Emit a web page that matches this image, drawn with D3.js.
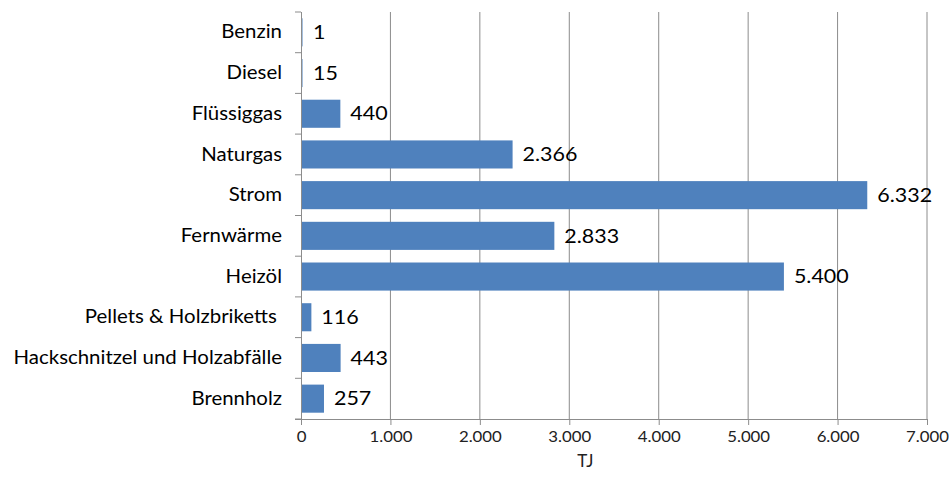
<!DOCTYPE html>
<html>
<head>
<meta charset="utf-8">
<script src="https://cdn.jsdelivr.net/npm/d3@7"></script>
<style>
  html, body { margin: 0; padding: 0; background: #fff; }
  svg { display: block; }
  text { font-family: Lato, "Open Sans", sans-serif; }
</style>
</head>
<body>
<svg id="chart" width="949" height="488"></svg>
<script>
// Endenergieverbrauch nach Energieträgern (TJ)
const categories = [
  "Benzin", "Diesel", "Flüssiggas", "Naturgas", "Strom", "Fernwärme",
  "Heizöl", "Pellets & Holzbriketts ", "Hackschnitzel und Holzabfälle", "Brennholz"
];
const values = [1, 15, 440, 2366, 6332, 2833, 5400, 116, 443, 257];
const xTicks = [0, 1000, 2000, 3000, 4000, 5000, 6000, 7000];
const xAxisTitle = "TJ";

const svg = d3.select("#chart");
const margin = { left: 301, right: 22, top: 12, bottom: 69 };
const W = 949, H = 488;

const x = d3.scaleLinear().domain([0, 7000]).range([margin.left, W - margin.right]);
const y = d3.scaleBand().domain(categories).range([margin.top, H - margin.bottom]).paddingInner(0.31).paddingOuter(0.155);

const fmt = d3.formatLocale({ decimal: ",", thousands: ".", grouping: [3], currency: ["", ""] }).format(",d");

// text is set slightly wide
const labelStretch = 1.16, catStretch = 1.075, tickStretch = 1.12;

// vertical gridlines
svg.append("g")
  .selectAll("line")
  .data(xTicks.slice(1))
  .join("line")
  .attr("x1", d => x(d)).attr("x2", d => x(d))
  .attr("y1", margin.top).attr("y2", H - margin.bottom)
  .attr("stroke", "#8c8c8c").attr("stroke-width", 1);

// bars
svg.append("g")
  .selectAll("rect")
  .data(values)
  .join("rect")
  .attr("x", x(0))
  .attr("y", (d, i) => y(categories[i]))
  .attr("width", d => Math.max(1.5, x(d) - x(0)))
  .attr("height", y.bandwidth())
  .attr("fill", "#4f81bd");

// value labels
svg.append("g")
  .selectAll("text")
  .data(values)
  .join("text")
  .attr("transform", (d, i) =>
    `translate(${Math.max(x(d), x(0) + 2) + 10},${y(categories[i]) + y.bandwidth() / 2}) scale(${labelStretch},1)`)
  .attr("dy", "0.36em")
  .attr("font-size", 18.5)
  .attr("fill", "#000")
  .text(d => fmt(d));

// x axis
const xAxis = d3.axisBottom(x).tickValues(xTicks).tickSize(6).tickFormat(d => fmt(d));
const gx = svg.append("g")
  .attr("transform", `translate(0,${H - margin.bottom})`)
  .call(xAxis);
gx.select(".domain").attr("stroke", "#8c8c8c").attr("d", `M${x(0) - 6},0.5H${x(7000)}`);
gx.selectAll(".tick line").attr("stroke", "#8c8c8c");
gx.selectAll(".tick text")
  .attr("y", 12).attr("dy", "0.71em")
  .attr("transform", `scale(${tickStretch},1)`)
  .attr("font-size", 15).attr("fill", "#222")
  .style("font-family", "Lato, sans-serif");

// y axis
const yAxis = d3.axisLeft(y).tickSize(0).tickPadding(19);
const gy = svg.append("g")
  .attr("transform", `translate(${x(0)},0)`)
  .call(yAxis);
gy.select(".domain").attr("stroke", "#8c8c8c").attr("d", `M0.5,${margin.top}V${H - margin.bottom + 6}`);
gy.selectAll(".tick text")
  .attr("x", -19 / catStretch)
  .attr("transform", `scale(${catStretch},1)`)
  .attr("font-size", 19).attr("fill", "#000")
  .style("white-space", "pre")
  .style("font-family", "Lato, sans-serif");

// category boundary ticks
const step = y.step();
const bounds = d3.range(categories.length + 1).map(i => y.range()[0] + i * step);
svg.append("g")
  .selectAll("line")
  .data(bounds)
  .join("line")
  .attr("x1", x(0) - 6).attr("x2", x(0))
  .attr("y1", d => d).attr("y2", d => d)
  .attr("stroke", "#8c8c8c");

// axis title
svg.append("text")
  .attr("x", x(3180))
  .attr("y", 467)
  .attr("text-anchor", "middle")
  .attr("font-size", 17)
  .attr("fill", "#222")
  .text(xAxisTitle);
</script>
</body>
</html>
